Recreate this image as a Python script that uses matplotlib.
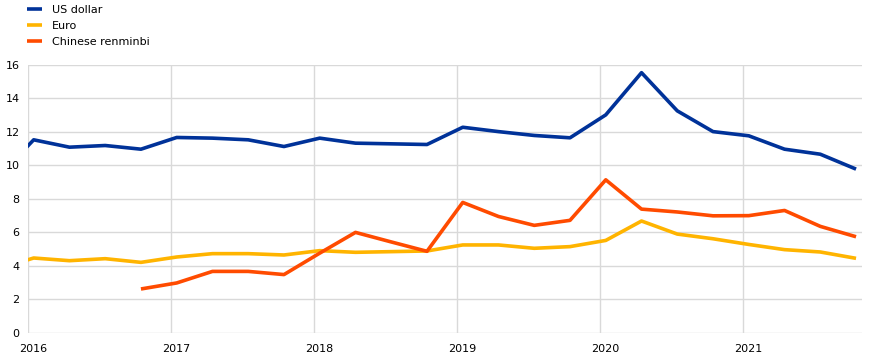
import matplotlib.pyplot as plt
import matplotlib.transforms as mtransforms
import numpy as np

# quarterly points, 2015Q4 .. 2021Q4 (first one only feeds the clipped start of the line)
quarters = np.arange(2015.75, 2022.0, 0.25) + 0.04

usd = [9.3, 11.53, 11.09, 11.19, 10.97, 11.67, 11.63, 11.53, 11.13,
       11.63, 11.33, 11.29, 11.25, 12.28, 12.02, 11.79, 11.65,
       13.02, 15.54, 13.26, 12.02, 11.77, 10.97, 10.67, 9.78]
eur = [3.82, 4.47, 4.31, 4.43, 4.21, 4.53, 4.73, 4.73, 4.65,
       4.91, 4.81, 4.85, 4.89, 5.25, 5.25, 5.05, 5.15,
       5.52, 6.68, 5.90, 5.62, 5.28, 4.97, 4.83, 4.45]
cny = [np.nan, np.nan, np.nan, np.nan, 2.62, 2.98, 3.67, 3.67, 3.48,
       4.76, 6.00, 5.43, 4.87, 7.79, 6.95, 6.42, 6.72,
       9.14, 7.39, 7.22, 6.99, 7.00, 7.31, 6.36, 5.74]

series_names = ['US dollar', 'Euro', 'Chinese renminbi']
colors = ['#003299', '#ffb400', '#ff4b00']
year_ticks = [2016, 2017, 2018, 2019, 2020, 2021]

fig = plt.figure(figsize=(8.74, 3.61), dpi=100)
ax = fig.add_axes([0.032, 0.078, 0.954, 0.742])

for vals, name, c in zip([usd, eur, cny], series_names, colors):
    ax.plot(quarters, vals, color=c, lw=2.6, label=name, solid_capstyle='butt')

ax.set_xlim(2016, 2021.83)
ax.set_ylim(0, 16)
ax.set_yticks(range(0, 17, 2))
ax.set_xticks(year_ticks)
ax.set_xticklabels([str(y) for y in year_ticks])
ax.grid(True, color='#d9d9d9', lw=1)
ax.set_axisbelow(True)
for s in ax.spines.values():
    s.set_visible(False)
ax.tick_params(length=0, labelsize=8)
ax.tick_params(axis='x', pad=8)
ax.tick_params(axis='y', pad=6)
# year labels sit slightly right of the gridline
offset = mtransforms.ScaledTranslation(5 / 100, 0, fig.dpi_scale_trans)
for lbl in ax.get_xticklabels():
    lbl.set_transform(lbl.get_transform() + offset)

fig.legend(loc='upper left', bbox_to_anchor=(0.026, 0.998), frameon=False,
           fontsize=8, handlelength=1.3, handletextpad=0.9, labelspacing=0.55,
           borderaxespad=0)

fig.savefig('out.png', dpi=100)
